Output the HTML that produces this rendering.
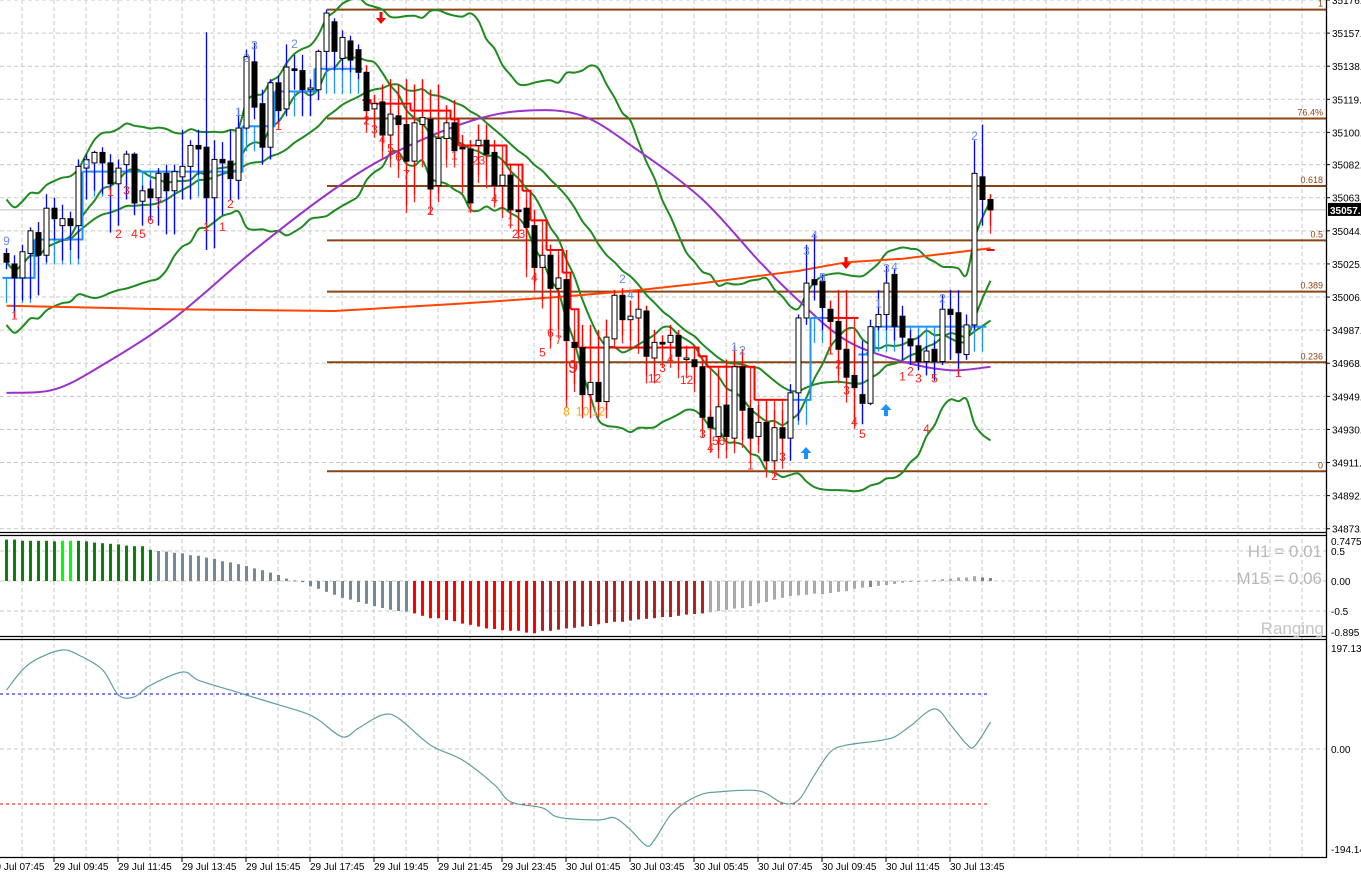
<!DOCTYPE html>
<html><head><meta charset="utf-8"><title>Chart</title>
<style>
html,body{margin:0;padding:0;background:#fff;width:1361px;height:878px;overflow:hidden}
svg{display:block;font-family:"Liberation Sans",sans-serif}
</style></head>
<body>
<svg id="chart" width="1361" height="878" viewBox="0 0 1361 878" xmlns="http://www.w3.org/2000/svg">
<rect x="0" y="0" width="1361" height="878" fill="#fff"/>
<g id="grid"></g>
<g id="main"></g>
<g id="osc"></g>
<g id="cci"></g>
<g id="axes"></g>
<text x="1322" y="557" text-anchor="end" font-size="17" fill="#b8b8b8">H1 = 0.01</text>
<text x="1322" y="584" text-anchor="end" font-size="17" fill="#b8b8b8">M15 = 0.06</text>
<text x="1324" y="634" text-anchor="end" font-size="17" fill="#c4c4c4">Ranging</text>
</svg>
<script>
const opens=[35031,35025,35017,35031,35043,35030,35057,35047,35051,35047,35080,35083,35089,35083,35071,35082,35088,35061,35068,35063,35077,35067,35075,35081,35093,35092,35063,35085,35084,35073,35103,35141,35117,35092,35129,35114,35137,35136,35125,35125,35147,35164,35143,35153,35148,35135,35114,35118,35099,35110,35105,35084,35105,35108,35070,35097,35106,35092,35091,35093,35096,35089,35070,35076,35056,35057,35047,35023,35030,35011,35016,34980,34977,34950,34957,34946,34982,35007,34993,34994,34998,34971,34980,34980,34984,34971,34970,34966,34937,34926,34944,34925,34966,34942,34926,34934,34912,34931,34925,34951,34994,35016,35015,34999,34992,34976,34961,34950,34945,34989,34996,35019,34995,34982,34978,34969,34976,34969,34999,34997,34973,34990,35075,35062];
const closes=[35026,35017,35032,35044,35030,35057,35051,35051,35047,35081,35085,35089,35083,35071,35080,35088,35060,35067,35063,35077,35067,35078,35081,35093,35091,35063,35085,35083,35074,35103,35144,35115,35092,35129,35113,35138,35136,35125,35126,35147,35169,35147,35155,35142,35135,35113,35117,35099,35111,35105,35084,35106,35109,35068,35097,35106,35090,35091,35060,35096,35088,35070,35076,35056,35055,35046,35023,35030,35011,35017,34981,34977,34950,34957,34946,34983,35007,34993,34995,34999,34972,34980,34979,34984,34972,34971,34966,34937,34931,34943,34926,34966,34941,34925,34934,34912,34931,34925,34951,34994,35014,35013,35000,34992,34976,34960,34954,34945,34989,34996,35014,34989,34983,34978,34969,34975,34969,34999,34996,34974,34990,35077,35062,35056];
const highs=[35034,35030,35036,35046,35049,35065,35063,35059,35055,35085,35088,35090,35092,35088,35085,35090,35089,35070,35073,35080,35082,35082,35102,35096,35102,35158,35096,35095,35102,35114,35148,35152,35125,35131,35133,35151,35145,35145,35131,35148,35171,35166,35159,35156,35151,35139,35122,35128,35131,35128,35131,35128,35131,35125,35128,35116,35119,35099,35096,35105,35105,35096,35085,35082,35070,35062,35056,35036,35036,35030,35033,34987,34990,34990,34987,34993,35010,35011,35004,35010,35001,34987,34984,34990,34987,34978,34978,34970,34941,34964,34970,34978,34976,34947,34944,34947,34941,34941,34956,34996,35036,35042,35019,35004,35010,35010,34981,34981,34993,35010,35024,35022,35001,34987,34984,34978,34981,35007,35010,35010,34996,35096,35105,35065];
const lows=[35022,34994,35004,35005,35007,35026,35039,35027,35033,35028,35062,35067,35065,35043,35047,35062,35053,35047,35050,35047,35042,35042,35062,35062,35076,35033,35034,35053,35062,35062,35102,35108,35082,35085,35105,35110,35125,35110,35110,35119,35136,35136,35136,35135,35131,35105,35102,35090,35085,35079,35059,35065,35085,35058,35065,35085,35085,35070,35059,35076,35073,35062,35056,35050,35044,35022,35013,35004,34981,34987,34947,34956,34941,34941,34941,34941,34981,34984,34981,34978,34961,34961,34970,34970,34964,34964,34956,34930,34921,34918,34918,34921,34924,34915,34921,34907,34907,34912,34912,34935,34990,35004,34987,34978,34961,34950,34935,34933,34944,34987,34987,34981,34970,34967,34964,34961,34958,34967,34970,34961,34970,34987,35047,35047];
const trail=[35017,35017,35017,35017,35039,35039,35039,35039,35039,35039,35078,35078,35078,35078,35078,35078,35078,35078,35078,35078,35078,35078,35078,35078,35078,35078,35078,35078,35078,35078,35104,35104,35104,35104,35124,35124,35124,35124,35124,35137,35137,35137,35137,35137,35137,35119,35117,35117,35117,35117,35117,35113,35113,35113,35113,35113,35108,35093,35093,35093,35093,35093,35093,35082,35082,35067,35050,35050,35033,35033,35020,34999,34977,34977,34977,34977,34977,34977,34977,34977,34977,34977,34977,34977,34977,34977,34977,34972,34966,34966,34966,34966,34966,34966,34947,34947,34947,34947,34947,34947,34947,34994,34994,34994,34994,34994,34994,34973,34974,34989,34989,34989,34989,34989,34989,34989,34989,34989,34989,34989,34989,34989,34989,35033];
const trend="UUUUUUUUUUUUUUUUUUUUUUUUUUUUUUUUUUUUUUUUUUUUUDDDDDDDDDDDDDDDDDDDDDDDDDDDDDDDDDDDDDDDDDDDDDDDDDDDDDUUUUUDDDDUUUUUUUUUUUUUUUU";
const purpleIdx=[0,6,12,21,31,41,49,58,65,72,79,87,94,99,105,112,118,123];
const purpleVal=[34951,34953,34967,34994,35033,35068,35090,35107,35113,35110,35090,35062,35027,35004,34981,34969,34964,34966];
const orangeIdx=[0,20,41,56,69,79,87,99,105,112,123];
const orangeVal=[35001,34999,34998,35002,35006,35010,35014,35021,35026,35028,35034];
const fibRatios=[1,0.764,0.618,0.5,0.389,0.236,0];
const fibLabels=["1","76.4%","0.618","0.5","0.389","0.236","0"];
const fibHigh=35171, fibLow=34906;
const priceTicks=[35176.5,35157.5,35138.5,35119.5,35100.5,35082.0,35063.0,35044.0,35025.0,35006.0,34987.0,34968.0,34949.0,34930.0,34911.0,34892.0,34873.0];
const histVals=[.69,.69,.67,.67,.67,.67,.66,.67,.67,.67,.66,.64,.63,.62,.61,.59,.58,.58,.52,.5,.49,.47,.46,.43,.42,.39,.37,.33,.31,.28,.25,.21,.18,.14,.1,.04,.01,-.02,-.09,-.13,-.18,-.23,-.28,-.31,-.35,-.38,-.42,-.45,-.48,-.5,-.51,-.54,-.58,-.62,-.62,-.65,-.67,-.71,-.73,-.76,-.79,-.8,-.82,-.83,-.83,-.86,-.87,-.83,-.83,-.81,-.79,-.78,-.76,-.75,-.72,-.7,-.68,-.68,-.66,-.64,-.63,-.62,-.6,-.6,-.58,-.56,-.55,-.54,-.52,-.5,-.48,-.46,-.45,-.42,-.37,-.35,-.31,-.28,-.25,-.24,-.23,-.21,-.22,-.2,-.18,-.17,-.13,-.11,-.1,-.08,-.07,-.05,-.03,-.01,0,.01,.02,.03,.04,.06,.06,.08,.06,.05];
const histState="GGGGGGGLLGGGGGGGGGGSSSSSSSSSSSSSSSSSSSSSSSSSSSSSSSSRRRRRRRRRRRRRRRRDDDDDDDDDDDDDDDDDDDDDAAAAAAAAAAAAAAAAAAAABAAAAAAAAAAAAABB";
const cciIdx=[0,2,4,7,9,12,14,16,18,22,24,28,32,37,39,42,44,47,49,53,57,61,63,67,69,74,76,78,80,81,83,85,87,89,94,97,99,101,103,105,109,111,113,116,118,120,121,123];
const cciVal=[107,144,165,180,171,144,98,95,116,140,125,107,89,67,53,22,38,62,56,7,-20,-65,-96,-107,-124,-129,-125,-147,-176,-165,-120,-96,-82,-78,-76,-98,-93,-47,-5,7,15,22,42,73,44,9,5,49];
const timeLabels=["29 Jul 07:45","29 Jul 09:45","29 Jul 11:45","29 Jul 13:45","29 Jul 15:45","29 Jul 17:45","29 Jul 19:45","29 Jul 21:45","29 Jul 23:45","30 Jul 01:45","30 Jul 03:45","30 Jul 05:45","30 Jul 07:45","30 Jul 09:45","30 Jul 11:45","30 Jul 13:45"];
const marks=[[1,34993,"1","r"],[0,35036,"9","b"],[14,35040,"2","r"],[16,35040,"4","r"],[17,35040,"5","r"],[18,35048,"6","r"],[19,35057,"7","r"],[13,35064,"1","r"],[15,35065,"3","r"],[25,35044,"1","r"],[27,35044,"1","r"],[28,35057,"2","r"],[34,35102,"1","r"],[10,35080,"9","b"],[30,35141,"2","b"],[31,35148,"3","b"],[36,35149,"2","b"],[29,35110,"1","b"],
[45,35105,"2","r"],[46,35100,"3","r"],[47,35094,"4","r"],[48,35089,"5","r"],[49,35084,"6","r"],[50,35074,"7","r"],[53,35053,"2","r"],[56,35085,"1","r"],[58,35055,"1","r"],[59,35082,"23","r"],[61,35060,"4","r"],[63,35047,"1","r"],[64,35040,"23","r"],[66,35015,"4","r"],[67,34972,"5","r"],[68,34983,"6","r"],[69,34979,"7","r"],[70,34938,"8","o"],[72,34938,"10","o"],[74,34938,"12","o"],[81,34957,"12","r"],[82,34963,"3","r"],[83,34968,"4","r"],[85,34956,"12","r"],[87,34925,"3","r"],[88,34917,"4","r"],[89,34921,"56","r"],[93,34907,"1","r"],[96,34901,"2","r"],[97,34912,"3","r"],[103,34973,"1","r"],[104,34965,"2","r"],[105,34950,"3","r"],[106,34932,"4","r"],[107,34925,"5","r"],[112,34958,"1","r"],[113,34961,"2","r"],[114,34957,"3","r"],[116,34957,"5","r"],[115,34928,"4","r"],[119,34960,"1","r"],
[77,35014,"2","b"],[78,35005,"4","b"],[91,34975,"1","b"],[92,34973,"2","b"],[100,35030,"3","b"],[101,35039,"4","b"],[102,35015,"5","b"],[109,35000,"1","b"],[110,35020,"3","b"],[111,35021,"4","b"],[117,35003,"2","b"],[121,35096,"2","b"]];
const NS="http://www.w3.org/2000/svg";
function mk(tag,attrs,parent){const e=document.createElementNS(NS,tag);for(const k in attrs)e.setAttribute(k,attrs[k]);parent.appendChild(e);return e;}
const X=i=>6.5+8*i;
const Y=p=>(35176.5-p)/0.574;
const YH=v=>581-v*60;
const YC=v=>749-v*0.55;
const grid=document.getElementById('grid'),main=document.getElementById('main'),osc=document.getElementById('osc'),cci=document.getElementById('cci'),axes=document.getElementById('axes');
for(let gx=22;gx<1326;gx+=32){
 const l=mk('line',{x1:gx,y1:0,x2:gx,y2:857,stroke:'#c8c8c8','stroke-dasharray':'4,3'},grid);
 
 
}
priceTicks.forEach(p=>{
 const l=mk('line',{x1:0,y1:Y(p),x2:1326,y2:Y(p),stroke:'#c8c8c8','stroke-dasharray':'4,3'},grid);
 
 
});
[0.5,0,-0.5].forEach(v=>{
 const l=mk('line',{x1:0,y1:YH(v),x2:1326,y2:YH(v),stroke:'#c8c8c8','stroke-dasharray':'4,3'},grid);
 
 
});
{const l=mk('line',{x1:0,y1:YC(0),x2:1326,y2:YC(0),stroke:'#c8c8c8','stroke-dasharray':'4,3'},grid);
 
 }
{const l=mk('line',{x1:0,y1:Y(closes[closes.length-1]),x2:1326,y2:Y(closes[closes.length-1]),stroke:'#c0c0c0'},main);
 
 }
fibRatios.forEach((r,k)=>{
 const p=fibLow+(fibHigh-fibLow)*r;
 const l=mk('line',{x1:327,y1:Y(p),x2:1326,y2:Y(p),stroke:'#8b4513','stroke-width':2},main);
 
 
 const t=mk('text',{x:1323,y:Y(p)-3,'text-anchor':'end','font-size':9,fill:'#8b4513'},main);
 t.textContent=fibLabels[k];
 
 
});
function pathFrom(idx,vals,yf){return idx.map((i,k)=>(k?'L':'M')+X(i).toFixed(1)+','+yf(vals[k]).toFixed(1)).join(' ');}
function smooth(idx,vals,yf){
 const pts=idx.map((i,k)=>[X(i),yf(vals[k])]);let d='M'+pts[0][0]+','+pts[0][1];
 for(let k=0;k<pts.length-1;k++){const p0=pts[Math.max(0,k-1)],p1=pts[k],p2=pts[k+1],p3=pts[Math.min(pts.length-1,k+2)];
  d+=' C'+(p1[0]+(p2[0]-p0[0])/6).toFixed(1)+','+(p1[1]+(p2[1]-p0[1])/6).toFixed(1)+' '+(p2[0]-(p3[0]-p1[0])/6).toFixed(1)+','+(p2[1]-(p3[1]-p1[1])/6).toFixed(1)+' '+p2[0].toFixed(1)+','+p2[1].toFixed(1);}
 return d;}
const n=closes.length, allIdx=[...Array(n).keys()];
function bb(period,dev){const up=[],mid=[],lo=[];for(let i=0;i<n;i++){const s=closes.slice(Math.max(0,i-period+1),i+1);const m=s.reduce((a,b)=>a+b,0)/s.length;const sd=Math.sqrt(s.reduce((a,b)=>a+(b-m)*(b-m),0)/s.length);const floor=i<period-1?18:12;mid.push(m);up.push(m+dev*Math.max(sd,floor));lo.push(m-dev*Math.max(sd,floor));}return [up,mid,lo];}
const [bu,bm,bl]=bb(20,2);
const ma10=bb(8,0)[1];
[[bu,'bollinger-upper'],[bm,'bollinger-middle'],[bl,'bollinger-lower'],[ma10,'fast-moving-average']].forEach(([arr,name])=>{
 const p=mk('path',{d:smooth(allIdx,arr,Y),fill:'none',stroke:'#1f8a1f','stroke-width':2},main);
 
 
});
{const p=mk('path',{d:smooth(purpleIdx,purpleVal,Y),fill:'none',stroke:'#9932cc','stroke-width':2},main);
 
 }
{const p=mk('path',{d:pathFrom(orangeIdx,orangeVal,Y),fill:'none',stroke:'#ff4500','stroke-width':2},main);
 
 }
for(let i=0;i<n;i++){
 const up=trend[i]==='U';
 const ty=Y(trail[i]);
 const v=up?mk('line',{x1:X(i),y1:ty,x2:X(i),y2:Math.max(Y(lows[i]),ty+25),stroke:'#1e90ff','stroke-width':1.3},main)
           :mk('line',{x1:X(i),y1:Math.min(ty,Y(highs[i])),x2:X(i),y2:Y(lows[i])+8,stroke:'#ff2020','stroke-width':1.3},main);
 
 
}
for(let i=0;i<n;i++){
 const up=trend[i]==='U';
 const x0=X(i)-4,x1=X(i)+4,ty=Y(trail[i]);
 let d='M'+x0+','+ty+' L'+x1+','+ty;
 if(i+1<n&&trend[i+1]===trend[i]) d+=' L'+x1+','+Y(trail[i+1]);
 const s=mk('path',{d:d,fill:'none',stroke:up?'#1e90ff':'#ff0000','stroke-width':2},main);
 
 
}
for(let i=0;i<n;i++){
 const up=trend[i]==='U';
 const w=mk('line',{x1:X(i),y1:Y(highs[i]),x2:X(i),y2:Y(lows[i]),stroke:up?'#0000ff':'#ff0000','stroke-width':1.3},main);
 
 
 const bull=closes[i]>=opens[i];
 const top=Y(Math.max(opens[i],closes[i])),bot=Y(Math.min(opens[i],closes[i]));
 const b=mk('rect',{x:X(i)-2.5,y:top,width:5,height:Math.max(1.5,bot-top),fill:bull?'#fff':'#000',stroke:'#000','stroke-width':1},main);
 
 
}
const mcol={r:'#ff2020',b:'#6a8ae6',o:'#ffa500'};
marks.forEach(m=>{
 const t=mk('text',{x:X(m[0]),y:Y(m[1]),'text-anchor':'middle','font-size':12,fill:mcol[m[3]]},main);
 t.textContent=m[2];
 
 
});
{const t=mk('text',{x:573,y:373,'text-anchor':'middle','font-size':18,fill:'#ff2020'},main);t.textContent='9';
 
 }
[[381,12,'down','#ff0000'],[846,257,'down','#ff0000'],[806,447,'up','#1e90ff'],[886,404,'up','#1e90ff']].forEach(a=>{
 const [x,y,dir,c]=a;
 const d=dir==='down'?`M${x-1.5},${y} h3 v6 h3.5 l-5,6 l-5,-6 h3.5z`:`M${x},${y} l5.5,6 h-3.5 v6 h-4 v-6 h-3.5z`;
 const p=mk('path',{d:d,fill:c},main);
 
 
});
const hcol={G:'#0a800a',L:'#00ff00',S:'#778899',R:'#ff0000',D:'#b22222',A:'#a9a9a9',B:'#778899'};
histVals.forEach((v,i)=>{
 const y0=YH(0),y1=YH(v);
 const r=mk('rect',{x:X(i)-1.5,y:Math.min(y0,y1),width:3,height:Math.max(1,Math.abs(y1-y0)),fill:hcol[histState[i]]},osc);
 
 
});
[[100,'#0000ff','upper-level-line'],[-100,'#ff0000','lower-level-line']].forEach(l=>{
 const e=mk('line',{x1:0,y1:YC(l[0]),x2:990,y2:YC(l[0]),stroke:l[1],'stroke-dasharray':'3,3'},cci);
 
 
});
{const p=mk('path',{d:smooth(cciIdx,cciVal,YC),fill:'none',stroke:'#5f9ea0','stroke-width':1.2},cci);
 
 }
[[0,532.5,1326,532.5],[0,535.5,1326,535.5],[0,636.5,1326,636.5],[0,639.5,1326,639.5],[0,857.5,1326,857.5],[1326.5,0,1326.5,858]].forEach(s=>{
 const l=mk('line',{x1:s[0],y1:s[1],x2:s[2],y2:s[3],stroke:'#000','stroke-width':1.3},axes);
 
 
});
priceTicks.forEach(p=>{
 const tk=mk('line',{x1:1326,y1:Y(p),x2:1330,y2:Y(p),stroke:'#000'},axes);
 
 
 const t=mk('text',{x:1332,y:Y(p)+4,'font-size':10,fill:'#000'},axes);
 t.textContent=p.toFixed(1);
 
 
});
{const cy=Y(closes[n-1]);
 const r=mk('rect',{x:1328,y:cy-7,width:33,height:13,fill:'#000'},axes);
 
 
 const t=mk('text',{x:1330,y:cy+4,'font-size':10,fill:'#fff','font-weight':'bold'},axes);t.textContent='35057.1';
 
 }
[[0.74755,"0.74755",541],[0.5,"0.5",null],[0,"0.00",null],[-0.5,"-0.5",null],[-0.895,"-0.895",632]].forEach(h=>{
 const yy=h[2]||YH(h[0]);
 const t=mk('text',{x:1331,y:yy+4,'font-size':10,fill:'#000'},axes);t.textContent=h[1];
 
 
});
[["197.135",648],["0.00",YC(0)],["-194.14",849]].forEach(h=>{
 const t=mk('text',{x:1331,y:h[1]+4,'font-size':10,fill:'#000'},axes);t.textContent=h[0];
 
 
});
timeLabels.forEach((s,k)=>{
 const tx=-10+64*k;
 const tk=mk('line',{x1:tx,y1:858,x2:tx,y2:862,stroke:'#000'},axes);
 
 
 const t=mk('text',{x:tx,y:870,'font-size':10,fill:'#000'},axes);t.textContent=s;
 
 
});
</script>
</body></html>
